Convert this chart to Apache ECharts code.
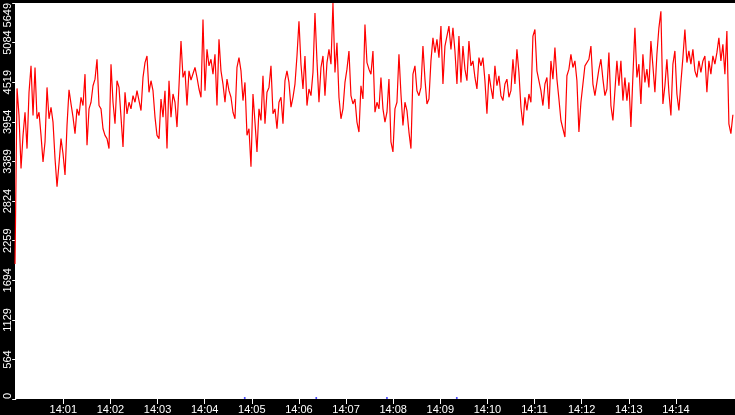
<!DOCTYPE html>
<html>
<head>
<meta charset="utf-8">
<script src="https://cdn.jsdelivr.net/npm/echarts@6/dist/echarts.min.js"></script>
<style>
html,body{margin:0;padding:0;background:#000;}
#chart{width:735px;height:415px;}
</style>
</head>
<body>
<div id="chart"></div>
<script>
// sample timing (seconds relative to 14:00:00)
const sampleStartSec = -1.5;
const samplePeriodSec = 2.546;

// series values
const values = [
1926,4431,4044,3289,3761,4091,3572,4375,4752,4044,4729,3997,4091,3761,3383,3667,4445,3997,4162,3950,
3431,3029,3360,3714,3501,3195,3903,4412,4209,4021,3785,4139,4044,4304,4186,4634,3619,4139,4233,4469,
4563,4847,4186,4139,3855,3761,3714,3572,4776,4233,3926,4540,4445,4021,3596,4375,4068,4233,4139,4327,
4233,4398,
4375,4115,4587,4799,4894,4375,4540,4398,4021,3761,3714,4280,4021,4398,3572,4540,4021,4351,4233,3879,
4469,5106,4587,4681,4186,4681,4550,4555,4729,4587,4422,4304,5413,4398,4988,4752,4847,4634,4917,4186,
5130,4681,4493,4233,4563,4398,4304,4091,3997,4729,4870,4681,4257,4516,3761,3855,3313,4351,3950,3525,
4139,3973,
4611,3926,4375,4445,4752,4068,4139,3855,4233,4304,3926,4540,4681,4516,4162,4304,4493,4894,5389,4776,
4422,4894,4186,4422,4327,4658,5507,4823,4233,4729,4894,4327,4799,4988,4776,5649,4658,5083,4304,3997,
4139,4516,4705,4965,4327,4209,4280,3950,3808,4469,4280,5342,4799,4705,4634,4965,4091,4233,4139,4587,
4139,3950,
4091,4563,3667,3525,4139,4233,4917,4351,3903,4233,4115,3808,3572,4634,4752,4398,4327,4445,5035,4563,
4209,4280,4823,5153,4941,5130,4870,5319,4493,5035,5177,5319,4988,5295,4965,4493,5177,4516,5035,4705,
4540,5106,4752,4823,4587,4422,4870,4752,4870,4540,4068,4634,4445,4280,4752,4469,4611,4327,4257,4493,
4563,4304,
4398,4847,4493,4988,4658,4162,3903,4304,4115,4351,4233,5177,5271,4681,4705,4398,4186,4493,4587,4139,
4823,4563,5012,4563,4280,3973,3855,3737,4611,4705,4917,4729,4823,4540,3808,4233,4209,4752,4729,4847,
5035,4493,4327,4304,4705,4847,4563,4327,4422,4941,4186,3973,3950,4823,4469,4823,4257,4587,4257,4516,
3879,4611,
5295,4587,4776,4209,4917,4516,4705,4445,5106,4752,4375,4917,5295,5531,4209,4469,4847,4375,4044,4776,
4965,4351,4115,4516,4870,5271,4799,4965,4776,4988,4681,4587,4823,4658,4823,4894,4375,4823,4634,4894,
4776,4941,5153,4823,5059,4634,5248,3926,3785,4054
];

// small blue marks near the baseline (seconds relative to 14:00:00)
const markerSeconds = [291, 382, 472, 561];
const markerValues = [14, 14, 14, 14];

// tick labels
const xTickSeconds = [60,120,180,240,300,360,420,480,540,600,660,720,780,840];
const xTickLabels = ['14:01','14:02','14:03','14:04','14:05','14:06','14:07','14:08','14:09','14:10','14:11','14:12','14:13','14:14'];
const yTickValues = [0,564,1129,1694,2259,2824,3389,3954,4519,5084,5649];

const lineData = values.map((v, i) => [sampleStartSec + i * samplePeriodSec, v]);
const markerData = markerSeconds.map((s, i) => [s, markerValues[i]]);

const chart = echarts.init(document.getElementById('chart'), null, {renderer: 'canvas'});
chart.setOption({
  animation: false,
  backgroundColor: '#000000',
  grid: {left: 15, right: 0, top: 0, bottom: 16, show: true, backgroundColor: '#ffffff', borderWidth: 0, containLabel: false},
  xAxis: {
    type: 'value',
    min: -1.53,
    max: 915.2,
    axisLine: {show: false},
    splitLine: {show: false},
    axisTick: {show: true, customValues: xTickSeconds, length: 5, lineStyle: {color: '#ffffff', width: 1}},
    axisLabel: {
      customValues: xTickSeconds,
      color: '#ffffff',
      fontFamily: 'Liberation Sans',
      fontSize: 11,
      margin: 5,
      formatter: function (v) { const k = xTickSeconds.indexOf(v); return k >= 0 ? xTickLabels[k] : ''; }
    }
  },
  yAxis: {
    type: 'value',
    min: 0,
    max: 5649,
    axisLine: {show: false},
    splitLine: {show: false},
    axisTick: {show: true, customValues: yTickValues, length: 4, lineStyle: {color: '#ffffff', width: 1}},
    axisLabel: {
      customValues: yTickValues,
      rotate: 90,
      color: '#ffffff',
      fontFamily: 'Liberation Sans Narrow, Liberation Sans',
      fontSize: 11,
      margin: 2,
      alignMinLabel: 'left',
      alignMaxLabel: 'right',
      formatter: function (v) { return String(v); }
    }
  },
  series: [
    {
      type: 'line',
      data: lineData,
      symbol: 'none',
      lineStyle: {color: '#ff0000', width: 1.2},
      silent: true
    },
    {
      type: 'scatter',
      data: markerData,
      symbolSize: 2,
      itemStyle: {color: '#0000ff'},
      silent: true
    }
  ]
});
</script>
</body>
</html>
